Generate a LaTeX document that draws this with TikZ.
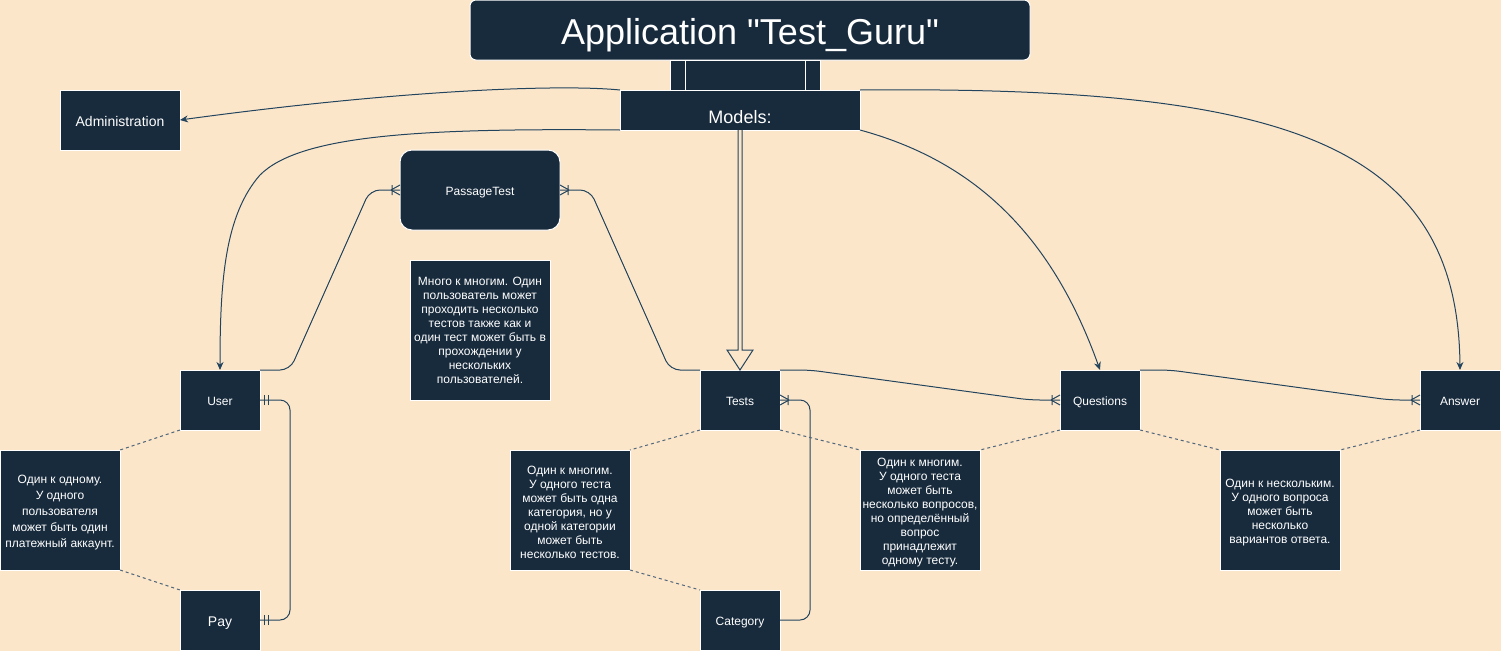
\documentclass[tikz,border=0pt]{standalone}
\usepackage{fontspec}
\setmainfont{Liberation Sans}[Ligatures=TeXOff]
\usetikzlibrary{arrows.meta,calc}
\definecolor{bg}{HTML}{FCE6CA}
\definecolor{dk}{HTML}{182B3D}
\definecolor{ln}{HTML}{23445D}
\definecolor{dl}{HTML}{50667A}
\tikzset{
  ent/.style={fill=dk, draw=white, line width=1pt, text=white, inner sep=0pt, outer sep=0pt, align=center, font=\fontsize{12}{14}\selectfont},
  one12/.style={text height=10.6pt, text depth=0pt},
  one14/.style={text height=12pt, text depth=0pt, font=\fontsize{14}{16}\selectfont},
  conn/.style={draw=ln, line width=1pt},
  dsh/.style={draw=dl, line width=1pt, dash pattern=on 3pt off 3pt},
  arr/.style={conn, -{Stealth[length=8pt,width=7pt]}},
  erl/.style={conn, rounded corners=10pt},
  crow/.pic={\draw[conn] (-9,0) -- (0,-5) (-9,0) -- (0,5) (-8,-5) -- (-8,5);},
  mand/.pic={\draw[conn] (-4,-5) -- (-4,5) (-8,-5) -- (-8,5);}
}
\begin{document}
\begin{tikzpicture}[x=1pt,y=-1pt]
\useasboundingbox (0,0) rectangle (1501,651);
\fill[bg] (0,0) rectangle (1501,651);

% top
\node[ent, rounded corners=6pt, minimum width=560pt, minimum height=60pt, text height=28pt, text depth=0pt, font=\fontsize{36}{40}\selectfont] (title) at (750,30) {Application "Test\_Guru"};
\node[ent, minimum width=150pt, minimum height=30pt] (proc) at (745,75) {};
\draw[white, line width=1pt] ($(proc.north west)+(15,0)$) -- ($(proc.south west)+(15,0)$)
  ($(proc.north east)+(-15,0)$) -- ($(proc.south east)+(-15,0)$);
\node[ent, minimum width=240pt, minimum height=40pt,
  label={[yshift=-7pt, text=white, font=\fontsize{18}{20}\selectfont]center:{Models:}}] (models) at (740,110) {};

\node[ent, one14, minimum width=120pt, minimum height=60pt] (admin) at (120,120) {Administration};
\node[ent, one12, rounded corners=12pt, minimum width=160pt, minimum height=80pt] (pt) at (480,190) {PassageTest};
\node[ent, minimum width=140pt, minimum height=140pt] (ptnote) at (480,330) {Много к многим. Один\\пользователь может\\проходить несколько\\тестов также как и\\один тест может быть в\\прохождении у\\нескольких\\пользователей.};

% entities
\node[ent, one12, minimum width=80pt, minimum height=60pt] (user) at (220,400) {User};
\node[ent, one14, minimum width=80pt, minimum height=60pt] (pay) at (220,620) {Pay};
\node[ent, one12, minimum width=80pt, minimum height=60pt] (tests) at (740,400) {Tests};
\node[ent, one12, minimum width=80pt, minimum height=60pt] (category) at (740,620) {Category};
\node[ent, one12, minimum width=80pt, minimum height=60pt] (questions) at (1100,400) {Questions};
\node[ent, one12, minimum width=80pt, minimum height=60pt] (answer) at (1460,400) {Answer};

% notes
\node[ent, minimum width=120pt, minimum height=120pt, font=\fontsize{12}{16}\selectfont] (n1) at (60,510) {\rule{0pt}{13pt}Один к одному.\\У одного\\пользователя\\может быть один\\платежный аккаунт.};
\node[ent, minimum width=120pt, minimum height=120pt] (ntc) at (570,510) {\rule{0pt}{13pt}Один к многим.\\У одного теста\\может быть одна\\категория, но у\\одной категории\\может быть\\несколько тестов.};
\node[ent, minimum width=120pt, minimum height=120pt] (ntq) at (920,510) {\rule{0pt}{13pt}Один к многим.\\У одного теста\\может быть\\несколько вопросов,\\но определённый\\вопрос\\принадлежит\\одному тесту.};
\node[ent, minimum width=120pt, minimum height=120pt] (na) at (1280,510) {\rule{0pt}{13pt}Один к нескольким.\\У одного вопроса\\может быть\\несколько\\вариантов ответа.};

% curved arrows from Models
\draw[arr] (models.north west) .. controls (560,84) and (400,90) .. (admin.east);
\draw[arr] (models.south west) .. controls (420,128) and (300,135) .. (260,175) .. controls (225,215) and (220,280) .. (user.north);
\draw[arr] (models.south east) .. controls (970,160) and (1050,230) .. (questions.north);
\draw[arr] (models.north east) .. controls (1280,86) and (1458,140) .. (answer.north);

% hollow arrow Models -> Tests
\draw[conn, fill=bg] ($(models.south)+(-2,0)$) -- ($(tests.north)+(-2,-20)$) -- ($(tests.north)+(-13,-20)$) -- (tests.north)
  -- ($(tests.north)+(13,-20)$) -- ($(tests.north)+(2,-20)$) -- ($(models.south)+(2,0)$);

% ER relations
\draw[erl] (user.north east) -- ++(30,0) -- ($(pt.west)+(-30,0)$) -- (pt.west);
\pic at (pt.west) {crow};
\draw[erl] (pt.east) -- ++(30,0) -- ($(tests.north west)+(-30,0)$) -- (tests.north west);
\pic[rotate=180] at (pt.east) {crow};
\draw[erl] (tests.north east) -- ++(30,0) -- ($(questions.west)+(-30,0)$) -- (questions.west);
\pic at (questions.west) {crow};
\draw[erl] (questions.north east) -- ++(30,0) -- ($(answer.west)+(-30,0)$) -- (answer.west);
\pic at (answer.west) {crow};
\draw[erl] (user.east) -- ++(30,0) |- (pay.east);
\pic[rotate=180] at (user.east) {mand};
\pic[rotate=180] at (pay.east) {mand};
\draw[erl] (category.east) -- ++(30,0) |- (tests.east);
\pic[rotate=180] at (tests.east) {crow};

% dashed note links
\draw[dsh] (user.south west) -- (n1.north east);
\draw[dsh] (n1.south east) -- (pay.north west);
\draw[dsh] (tests.south west) -- (ntc.north east);
\draw[dsh] (ntc.south east) -- (category.north west);
\draw[dsh] (tests.south east) -- (ntq.north west);
\draw[dsh] (questions.south west) -- (ntq.north east);
\draw[dsh] (questions.south east) -- (na.north west);
\draw[dsh] (answer.south west) -- (na.north east);
\end{tikzpicture}
\end{document}
